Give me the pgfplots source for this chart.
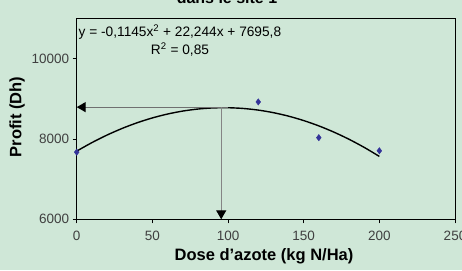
\documentclass[border=0pt]{standalone}
\usepackage{pgfplots}
\pgfplotsset{compat=1.18}
\usepackage{fontspec}
\setmainfont{Liberation Sans}
\usetikzlibrary{arrows.meta}
\definecolor{bg}{HTML}{CFE7D7}
\definecolor{ptblue}{HTML}{333399}
\definecolor{arrgray}{HTML}{707070}
\begin{document}
\begin{tikzpicture}
\fill[bg] (-76.7pt,-50.7pt) rectangle (385.3pt,219.3pt);
\useasboundingbox (-76.7pt,-50.7pt) rectangle (385.3pt,219.3pt);
\begin{axis}[
  at={(0,0)}, anchor=south west,
  scale only axis, width=378.3pt, height=201pt,
  xmin=0, xmax=250, ymin=6000, ymax=11000,
  xtick={0,50,100,150,200,250},
  ytick={6000,8000,10000},
  scaled ticks=false,
  tick pos=left,
  tick align=outside,
  major tick length=4pt,
  tick style={black, line width=0.8pt},
  axis line style={black, line width=1pt},
  /pgf/number format/assume math mode=true,
  /pgf/number format/set thousands separator={},
  ticklabel style={font=\fontsize{13.5}{13.5}\selectfont, text=black!75},
  xticklabel style={yshift=-4pt},
  clip=false,
]
% fitted curve (tabulated from the chart's trend line)
\addplot[black, line width=1.4pt, smooth] coordinates {
(0,7695.8) (10,7906.79) (20,8094.88) (30,8260.07) (40,8402.36) (50,8521.75)
(60,8618.24) (70,8691.83) (80,8742.52) (90,8770.31) (100,8775.2) (110,8757.19)
(120,8716.28) (130,8652.47) (140,8565.76) (150,8456.15) (160,8323.64)
(170,8168.23) (180,7989.92) (190,7788.71) (200,7564.6)};
% arrows
\addplot[arrgray, line width=1.2pt, -{Triangle[length=9pt,width=10pt,color=black]}] coordinates {(100,8790) (0,8790)};
\addplot[arrgray!85, line width=1.2pt, -{Triangle[length=9pt,width=10pt,color=black]}] coordinates {(95.5,8790) (95.5,6000)};
% observed points
\addplot[only marks, mark=diamond*, mark size=3.2pt, ptblue, mark options={fill=ptblue}] coordinates {
(0,7670) (120,8920) (160,8030) (200,7705)};
\end{axis}
\node[font=\fontsize{16}{16}\selectfont\bfseries, anchor=base] at (150.3pt,215.3pt) {dans le site 1};
\node[font=\fontsize{13.7}{13.7}\selectfont, anchor=base west, inner sep=0pt] at (1.8pt,182.6pt) {y = -0,1145x\textsuperscript{2} + 22,244x + 7695,8};
\node[font=\fontsize{13.7}{13.7}\selectfont, anchor=base, inner sep=0pt] at (103.3pt,165pt) {R\textsuperscript{2} = 0,85};
\node[font=\fontsize{16.5}{16.5}\selectfont\bfseries, rotate=90, anchor=center] at (-59.7pt,102.3pt) {Profit (Dh)};
\node[font=\fontsize{16.5}{16.5}\selectfont\bfseries, anchor=base] at (187.3pt,-40.7pt) {Dose d’azote (kg N/Ha)};
\end{tikzpicture}
\end{document}
